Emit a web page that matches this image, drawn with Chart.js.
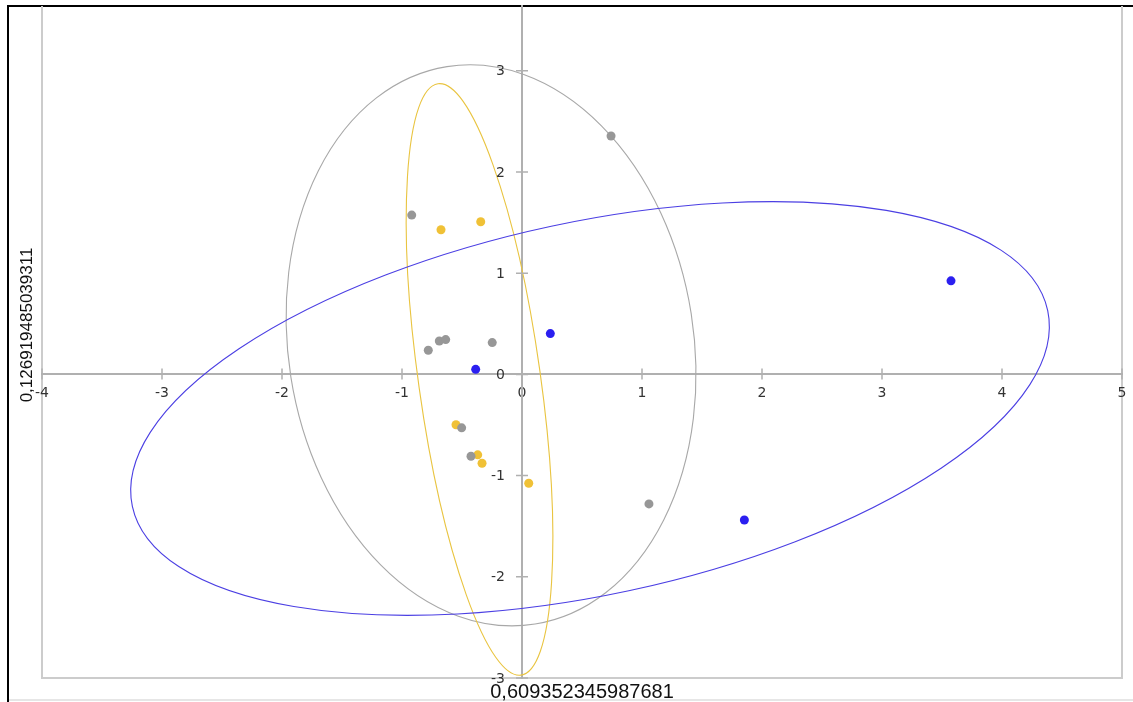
<!DOCTYPE html>
<html>
<head>
<meta charset="utf-8">
<script src="https://cdn.jsdelivr.net/npm/chart.js@4.4.0/dist/chart.umd.min.js"></script>
<style>
  html, body { margin: 0; padding: 0; background: #fff; }
  #wrap { position: relative; width: 1133px; height: 702px; }
</style>
</head>
<body>
<div id="wrap"><canvas id="chart"></canvas></div>
<script>
// observations per group (x, y)
const grayX = [0.742, -0.919, -0.781, -0.689, -0.636, -0.248, -0.503, -0.425, 1.058];
const grayY = [2.356, 1.574, 0.238, 0.330, 0.344, 0.314, -0.528, -0.809, -1.280];
const yellowX = [-0.675, -0.344, -0.550, -0.369, -0.333, 0.056];
const yellowY = [1.429, 1.508, -0.498, -0.795, -0.878, -1.076];
const blueX = [-0.386, 0.236, 3.575, 1.853];
const blueY = [0.050, 0.403, 0.924, -1.439];

// confidence ellipses: centre and two conjugate semi-axes, in data units (gray, yellow, blue)
const ellipseCenterX = [-0.258, -0.354, 0.567];
const ellipseCenterY = [0.287, -0.050, -0.337];
const ellipseAxisU = [[-0.367, 2.754], [-0.346, 2.922], [3.814, 0.967]];
const ellipseAxisV = [[1.668, 0.314], [0.503, 0.084], [0.323, -1.801]];
const ellipseColors = ['#a8a8a8', '#e9c440', '#4b3fe3'];

const xTicks = [-4, -3, -2, -1, 0, 1, 2, 3, 4, 5];
const yTicks = [-3, -2, -1, 0, 1, 2, 3];
const xTitle = '0,609352345987681';
const yTitle = '0,126919485039311';

function toPoints(xs, ys) {
    return xs.map((v, i) => ({ x: v, y: ys[i] }));
}

const framePlugin = {
    id: 'frame',
    beforeDraw(chart) {
        const ctx = chart.ctx;
        const a = chart.chartArea;
        ctx.save();
        // outer border
        ctx.fillStyle = '#000';
        ctx.fillRect(7, 5, 2, chart.height - 5);
        ctx.fillRect(7, 5, chart.width - 7, 2);
        ctx.fillStyle = '#e6e6e6';
        ctx.fillRect(9, 699, chart.width - 9, 2);
        // plot frame
        ctx.fillStyle = '#cccccc';
        ctx.fillRect(a.left - 1, a.top, 2, a.bottom - a.top + 1);
        ctx.fillRect(a.right - 1, a.top, 2, a.bottom - a.top + 1);
        ctx.fillRect(a.left - 1, a.bottom - 1, a.right - a.left + 2, 2);
        ctx.restore();
    },
    afterDraw(chart) {
        const ctx = chart.ctx;
        const { x, y } = chart.scales;
        const x0 = x.getPixelForValue(0);
        const y0 = y.getPixelForValue(0);
        ctx.save();
        ctx.strokeStyle = '#b0b0b0';
        ctx.lineWidth = 1.5;
        ctx.beginPath();
        xTicks.forEach(v => {
            const px = x.getPixelForValue(v);
            ctx.moveTo(px, y0 - 6);
            ctx.lineTo(px, y0 + 5);
        });
        yTicks.forEach(v => {
            const py = y.getPixelForValue(v);
            ctx.moveTo(x0 - 6, py);
            ctx.lineTo(x0 + 6, py);
        });
        ctx.stroke();

        // y tick labels, left of the vertical axis
        ctx.fillStyle = '#333';
        ctx.font = '14px "DejaVu Sans", sans-serif';
        ctx.textAlign = 'right';
        ctx.textBaseline = 'middle';
        yTicks.forEach(v => {
            ctx.fillText(String(v), x0 - 17, y.getPixelForValue(v) + 1);
        });

        // axis titles
        const a = chart.chartArea;
        ctx.fillStyle = '#111';
        ctx.textAlign = 'center';
        ctx.textBaseline = 'middle';
        ctx.font = '20px "Liberation Sans", Arial, sans-serif';
        ctx.fillText(xTitle, (a.left + a.right) / 2, 692);
        ctx.translate(27, 325);
        ctx.rotate(-Math.PI / 2);
        ctx.font = '17px "Liberation Sans", Arial, sans-serif';
        ctx.fillText(yTitle, 0, 0);
        ctx.restore();
    }
};

const ellipsePlugin = {
    id: 'ellipses',
    beforeDatasetsDraw(chart) {
        const ctx = chart.ctx;
        const { x, y } = chart.scales;
        ellipseCenterX.forEach((cx, i) => {
            const cy = ellipseCenterY[i];
            const px = x.getPixelForValue(cx);
            const py = y.getPixelForValue(cy);
            const ux = x.getPixelForValue(cx + ellipseAxisU[i][0]) - px;
            const uy = y.getPixelForValue(cy + ellipseAxisU[i][1]) - py;
            const vx = x.getPixelForValue(cx + ellipseAxisV[i][0]) - px;
            const vy = y.getPixelForValue(cy + ellipseAxisV[i][1]) - py;
            ctx.save();
            ctx.beginPath();
            ctx.save();
            ctx.transform(ux, uy, vx, vy, px, py);
            ctx.arc(0, 0, 1, 0, Math.PI * 2);
            ctx.restore();
            ctx.strokeStyle = ellipseColors[i];
            ctx.lineWidth = 1.1;
            ctx.stroke();
            ctx.restore();
        });
    }
};

const keepIntegers = scale => {
    scale.ticks = scale.ticks.filter(t => Number.isInteger(t.value));
};
const noPadding = scale => {
    scale.paddingLeft = 0;
    scale.paddingRight = 0;
    scale.paddingTop = 0;
    scale.paddingBottom = 0;
};

new Chart(document.getElementById('chart'), {
    type: 'scatter',
    data: {
        datasets: [
            { label: 'blue', data: toPoints(blueX, blueY), backgroundColor: '#2b1ff0' },
            { label: 'gray', data: toPoints(grayX, grayY), backgroundColor: '#979797' },
            { label: 'yellow', data: toPoints(yellowX, yellowY), backgroundColor: '#f0c136' }
        ]
    },
    options: {
        responsive: true,
        maintainAspectRatio: false,
        animation: false,
        layout: { padding: { left: 42, right: 11, top: 6, bottom: 24 } },
        elements: { point: { radius: 4.5, borderWidth: 0, hoverRadius: 4.5 } },
        plugins: {
            legend: { display: false },
            tooltip: { enabled: false }
        },
        scales: {
            x: {
                type: 'linear',
                min: -4,
                max: 5,
                position: { y: 0 },
                afterBuildTicks: keepIntegers,
                afterFit: noPadding,
                grid: { display: false, drawTicks: false },
                border: { display: true, color: '#b0b0b0', width: 2 },
                ticks: {
                    stepSize: 1,
                    autoSkip: false,
                    maxRotation: 0,
                    padding: 11,
                    color: '#333',
                    font: { family: '"DejaVu Sans", sans-serif', size: 14 }
                }
            },
            y: {
                type: 'linear',
                min: -3,
                max: 3.64,
                position: { x: 0 },
                afterBuildTicks: keepIntegers,
                afterFit: noPadding,
                grid: { display: false, drawTicks: false },
                border: { display: true, color: '#b0b0b0', width: 2 },
                ticks: { display: false, stepSize: 1 }
            }
        }
    },
    plugins: [framePlugin, ellipsePlugin]
});
</script>
</body>
</html>
